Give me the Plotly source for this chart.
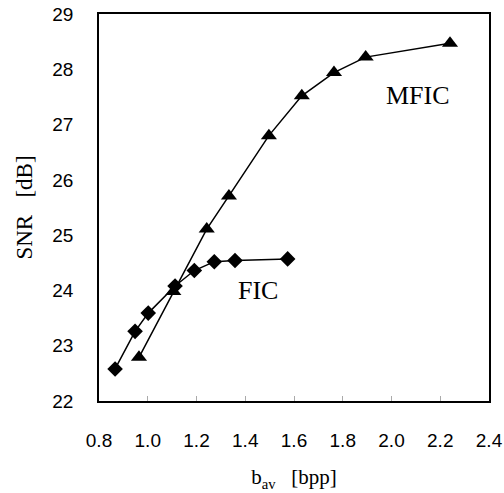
import plotly.graph_objects as go

fic_x = [0.866, 0.948, 1.002, 1.112, 1.191, 1.273, 1.358, 1.574]
fic_y = [22.58, 23.26, 23.59, 24.08, 24.36, 24.52, 24.54, 24.57]
mfic_x = [0.964, 1.105, 1.242, 1.333, 1.497, 1.632, 1.764, 1.894, 2.24]
mfic_y = [22.79, 23.98, 25.11, 25.71, 26.80, 27.52, 27.94, 28.22, 28.47]
x_ticks = [0.8, 1.0, 1.2, 1.4, 1.6, 1.8, 2.0, 2.2, 2.4]
y_ticks = [22, 23, 24, 25, 26, 27, 28, 29]

fig = go.Figure()
fig.add_trace(go.Scatter(x=fic_x, y=fic_y, mode="lines+markers",
                         line=dict(color="black", width=1.5),
                         marker=dict(symbol="diamond", size=12, color="black"),
                         name="FIC", showlegend=False))
fig.add_trace(go.Scatter(x=mfic_x, y=mfic_y, mode="lines+markers",
                         line=dict(color="black", width=1.5),
                         marker=dict(symbol="triangle-up", size=14, color="black"),
                         name="MFIC", showlegend=False))

fig.add_annotation(x=2.109, y=27.52, text="MFIC", showarrow=False,
                   font=dict(family="Liberation Serif", size=26, color="black"))
fig.add_annotation(x=1.452, y=23.99, text="FIC", showarrow=False,
                   font=dict(family="Liberation Serif", size=26, color="black"))

fig.update_layout(
    width=504, height=493,
    margin=dict(l=99, r=15, t=14, b=92, autoexpand=False),
    paper_bgcolor="white", plot_bgcolor="white",
    xaxis=dict(range=[0.8, 2.4], tickvals=x_ticks,
               ticktext=[f"{v:.1f}" for v in x_ticks],
               showgrid=False, zeroline=False,
               showline=True, linecolor="black", linewidth=1.5, mirror=True,
               ticks="inside", ticklen=5, tickcolor="#aaaaaa", tickwidth=1,
               ticklabelstandoff=21,
               tickfont=dict(family="Liberation Sans", size=19, color="black"),
               title=dict(text="b<sub>av</sub>\u00a0\u00a0\u00a0[bpp]", standoff=20,
                          font=dict(family="Liberation Serif", size=21, color="black"))),
    yaxis=dict(range=[22, 29], tickvals=y_ticks,
               showgrid=False, zeroline=False,
               showline=True, linecolor="black", linewidth=1.5, mirror=True,
               ticks="", ticklabelstandoff=20,
               tickfont=dict(family="Liberation Sans", size=19, color="black"),
               title=dict(text="SNR\u00a0\u00a0\u00a0[dB]", standoff=13,
                          font=dict(family="Liberation Serif", size=23, color="black"))),
)

fig.write_html("out.html", config={"displayModeBar": False},
               post_script="document.body.style.margin='0';document.body.style.overflow='hidden';")
